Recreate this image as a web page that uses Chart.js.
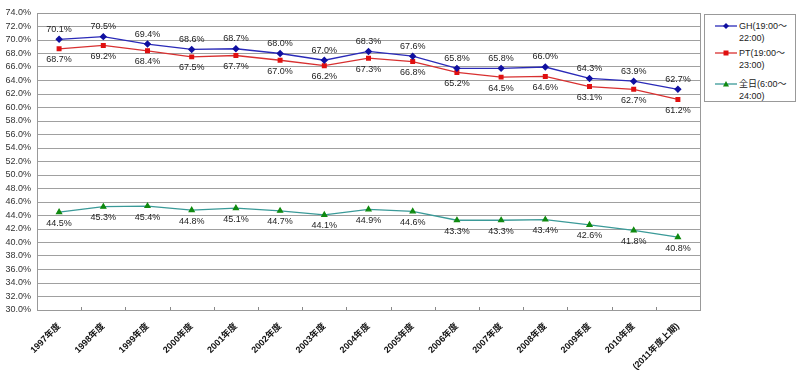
<!DOCTYPE html>
<html>
<head>
<meta charset="utf-8">
<script src="https://cdn.jsdelivr.net/npm/chart.js@4/dist/chart.umd.min.js"></script>
<style>
html,body{margin:0;padding:0;background:#fff;}
#wrap{position:relative;width:800px;height:370px;}
#legend{position:absolute;left:704px;top:14px;width:92px;height:88px;border:1px solid #999;background:#fff;
font-family:'Liberation Sans','Noto Sans CJK JP',sans-serif;font-size:9px;font-weight:normal;color:#222;box-sizing:border-box;}
.item{position:absolute;left:10px;line-height:12px;}
.item canvas{position:absolute;left:0;top:0;}
.item span{position:absolute;left:24px;top:0;white-space:nowrap;}
</style>
</head>
<body>
<div id="wrap">
<canvas id="c" width="800" height="370"></canvas>
<div id="legend"></div>
</div>
<script>
const categories = ['1997年度','1998年度','1999年度','2000年度','2001年度','2002年度','2003年度','2004年度','2005年度','2006年度','2007年度','2008年度','2009年度','2010年度','(2011年度上期)'];
const seriesNames = ['GH(19:00～\n22:00)','PT(19:00～\n23:00)','全日(6:00～\n24:00)'];
const ghValues = [70.1,70.5,69.4,68.6,68.7,68.0,67.0,68.3,67.6,65.8,65.8,66.0,64.3,63.9,62.7];
const ptValues = [68.7,69.2,68.4,67.5,67.7,67.0,66.2,67.3,66.8,65.2,64.5,64.6,63.1,62.7,61.2];
const allDayValues = [44.5,45.3,45.4,44.8,45.1,44.7,44.1,44.9,44.6,43.3,43.3,43.4,42.6,41.8,40.8];
const yMin = 30, yMax = 74, yStep = 2;

const FONT = "'Liberation Sans','Noto Sans CJK JP',sans-serif";

const styles = [
  {line:'#2a2ab8', point:'#1010a0', shape:'rectRot', r:2.8, labelPos:'above'},
  {line:'#d83030', point:'#e01010', shape:'rect', r:2.6, labelPos:'below'},
  {line:'#3a9a98', point:'#108a10', shape:'triangle', r:2.8, labelPos:'below'}
];
const dataArrays = [ghValues, ptValues, allDayValues];

const labelPlugin = {
  id:'labels',
  afterDatasetsDraw(chart){
    const ctx = chart.ctx;
    ctx.save();
    ctx.font = '9px ' + FONT;
    ctx.fillStyle = '#222';
    ctx.textAlign = 'center';
    ctx.textBaseline = 'middle';
    chart.data.datasets.forEach((ds, i) => {
      const meta = chart.getDatasetMeta(i);
      meta.data.forEach((pt, j) => {
        const off = styles[i].labelPos === 'above' ? -10 : 11;
        ctx.fillText(ds.data[j].toFixed(1) + '%', pt.x, pt.y + off);
      });
    });
    ctx.restore();
  }
};
const borderPlugin = {
  id:'border',
  beforeDatasetsDraw(chart){
    const a = chart.chartArea, ctx = chart.ctx;
    ctx.save();
    ctx.strokeStyle = '#999';
    ctx.lineWidth = 1;
    ctx.strokeRect(Math.round(a.left)+0.5, Math.round(a.top)+0.5, Math.round(a.right-a.left), Math.round(a.bottom-a.top));
    const xs = chart.scales.x;
    ctx.strokeStyle = '#888';
    for (let k = 1; k < categories.length; k++) {
      const x = Math.round((xs.getPixelForValue(k-1) + xs.getPixelForValue(k))/2) + 0.5;
      ctx.beginPath(); ctx.moveTo(x, a.bottom); ctx.lineTo(x, a.bottom - 3); ctx.stroke();
    }
    ctx.restore();
  }
};

new Chart(document.getElementById('c'), {
  type:'line',
  data:{
    labels: categories,
    datasets: dataArrays.map((d,i) => ({
      label: seriesNames[i],
      data: d,
      borderColor: styles[i].line,
      backgroundColor: styles[i].point,
      pointBackgroundColor: styles[i].point,
      pointBorderColor: styles[i].point,
      pointStyle: styles[i].shape,
      pointRadius: styles[i].r,
      borderWidth: 1.3,
      tension: 0,
      fill: false
    }))
  },
  options:{
    responsive:false,
    animation:false,
    devicePixelRatio:1,
    layout:{padding:{left:0,right:100,top:13,bottom:0}},
    plugins:{legend:{display:false}, tooltip:{enabled:false}},
    scales:{
      x:{
        offset:true,
        grid:{display:false, offset:true},
        border:{display:true,color:'#888'},
        ticks:{font:{family:FONT,size:9,weight:'bold'},color:'#111',minRotation:45,maxRotation:45,padding:3,autoSkip:false},
        afterFit(s){ s.height = 60; }
      },
      y:{
        min:yMin, max:yMax,
        grid:{color:'#a0a0a0', drawTicks:false, lineWidth:1},
        border:{display:true,color:'#888'},
        ticks:{stepSize:yStep, autoSkip:false, font:{family:FONT,size:9}, color:'#333', padding:6,
          callback:v => v.toFixed(1) + '%'},
        afterFit(s){ s.width = 37; }
      }
    }
  },
  plugins:[labelPlugin, borderPlugin]
});

const legend = document.getElementById('legend');
const tops = [5, 32, 63];
seriesNames.forEach((name, i) => {
  const div = document.createElement('div');
  div.className = 'item';
  div.style.top = tops[i] + 'px';
  const cv = document.createElement('canvas');
  cv.width = 22; cv.height = 12;
  const c = cv.getContext('2d');
  c.strokeStyle = styles[i].line; c.lineWidth = 1.3;
  c.beginPath(); c.moveTo(0,6); c.lineTo(22,6); c.stroke();
  c.fillStyle = styles[i].point;
  c.beginPath();
  if (styles[i].shape === 'rectRot') { c.moveTo(11,3); c.lineTo(14,6); c.lineTo(11,9); c.lineTo(8,6); }
  else if (styles[i].shape === 'rect') { c.rect(8.5,3.5,5,5); }
  else { c.moveTo(11,3); c.lineTo(14,8.5); c.lineTo(8,8.5); }
  c.closePath(); c.fill();
  div.appendChild(cv);
  const sp = document.createElement('span');
  sp.innerHTML = name.replace('\n','<br>');
  div.appendChild(sp);
  legend.appendChild(div);
});
</script>
</body>
</html>
